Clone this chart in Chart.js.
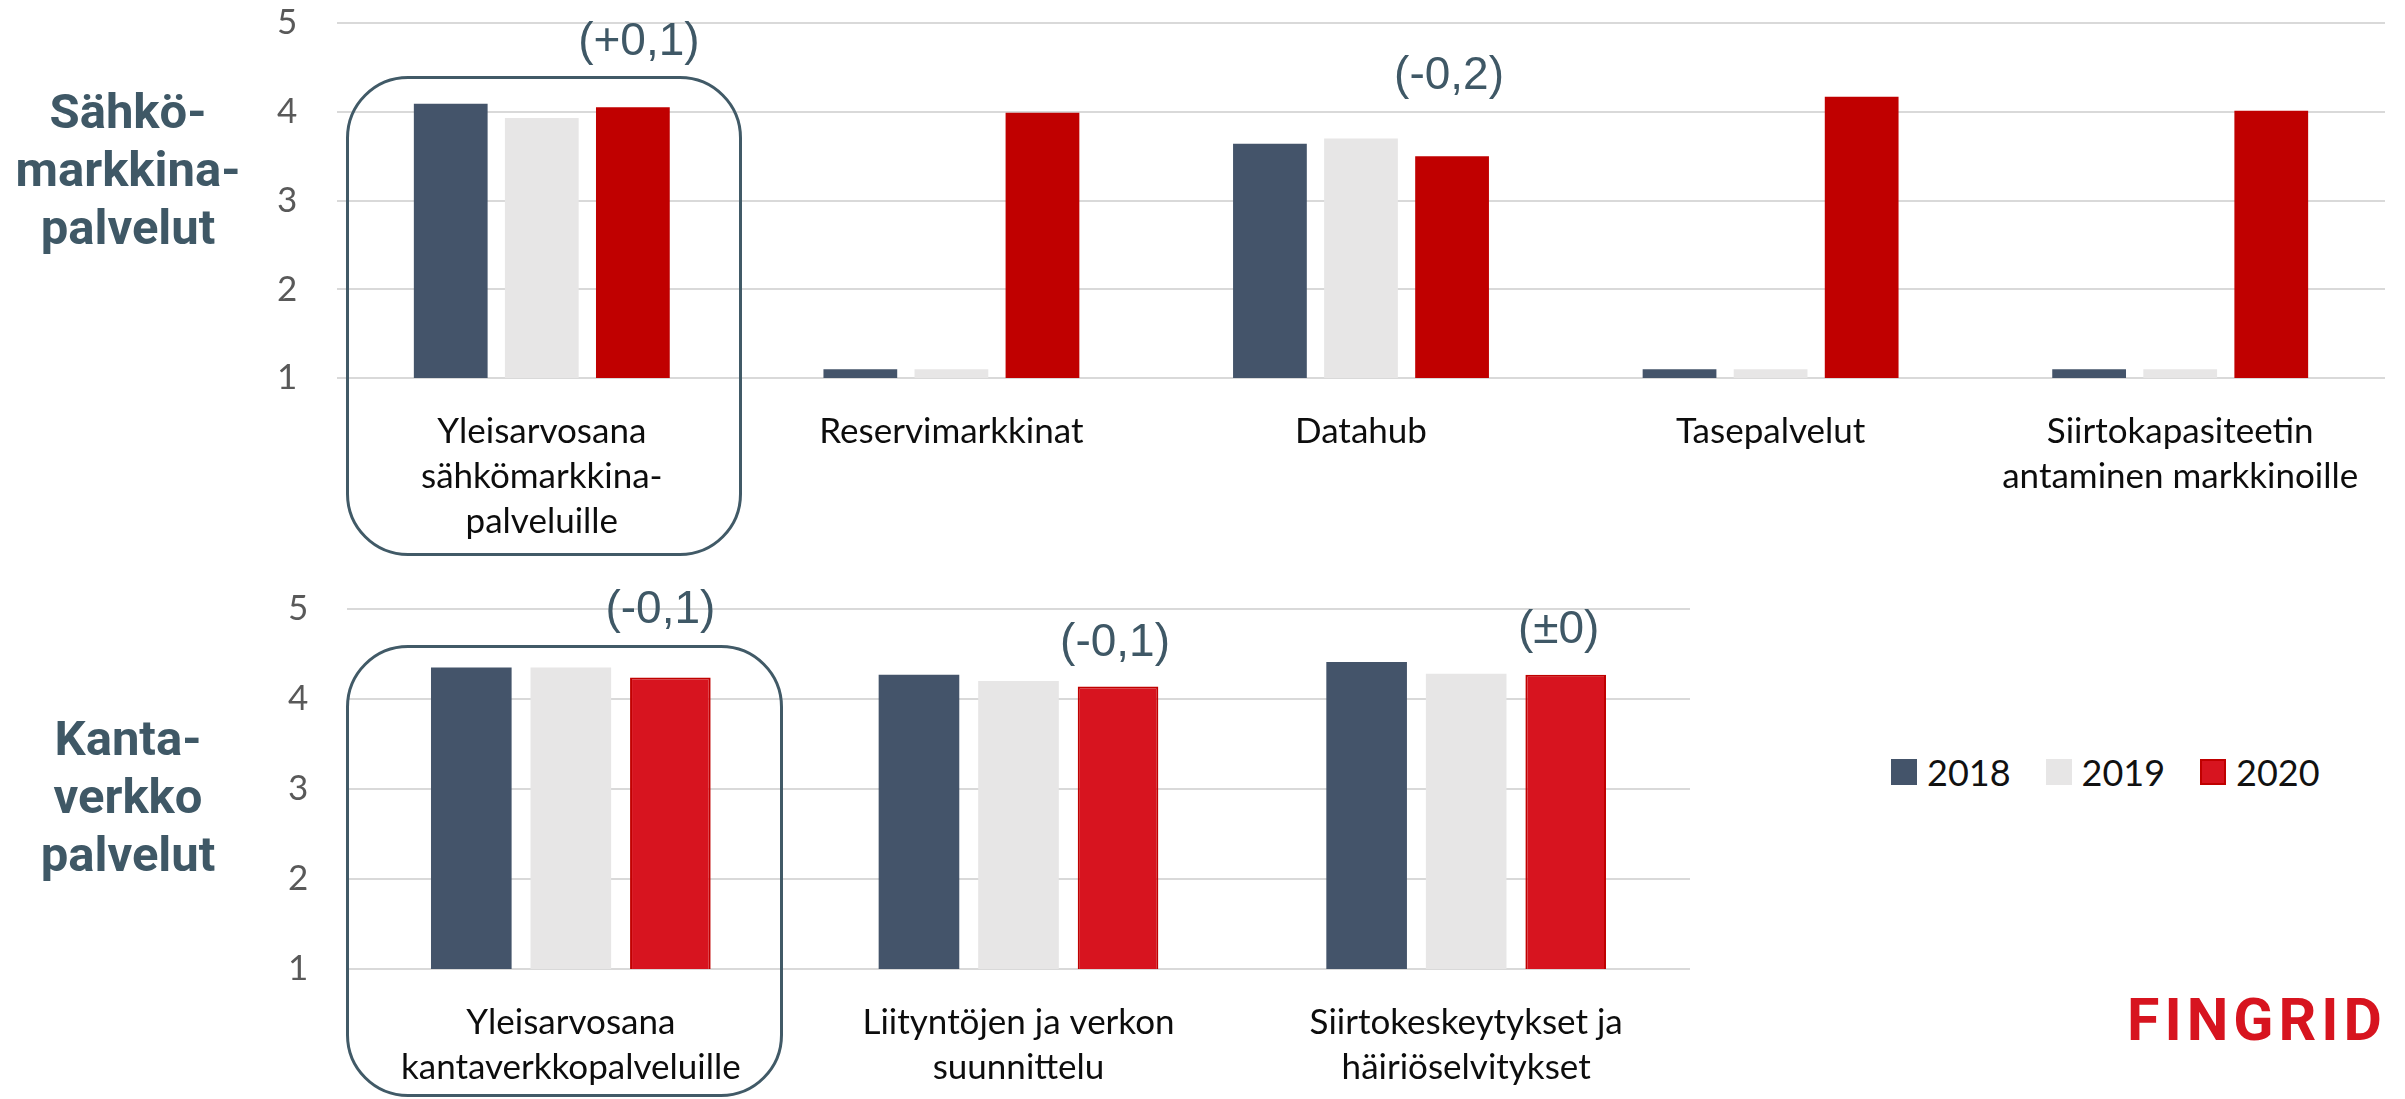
<!DOCTYPE html>
<html>
<head>
<meta charset="utf-8">
<script src="https://cdn.jsdelivr.net/npm/chart.js@4.4.0/dist/chart.umd.min.js"></script>
<style>
  body { margin: 0; background: #fff; width: 2405px; height: 1099px; overflow: hidden; position: relative; font-family: Lato, sans-serif; }
  .wrap { position: absolute; left: 0; }
  #topWrap { top: 0; width: 2405px; height: 560px; }
  #bottomWrap { top: 560px; width: 1720px; height: 539px; }
  .side { position: absolute; left: 0; width: 256px; text-align: center; font-family: Roboto, sans-serif; font-weight: 700; font-size: 49px; line-height: 58px; color: #3f5866; }
  .box { position: absolute; border: 3px solid #415a67; border-radius: 62px; box-sizing: border-box; pointer-events: none; }
  #legend { position: absolute; left: 1891px; top: 750px; height: 44px; display: flex; align-items: center; font-family: Lato, sans-serif; font-size: 36px; color: #111; }
  #legend .sw { width: 26px; height: 26px; box-sizing: border-box; margin-right: 10px; }
  #legend .item { display: flex; align-items: center; margin-right: 35px; }
  #logo { position: absolute; left: 2127px; top: 990px; font-family: Roboto, sans-serif; font-weight: 700; font-size: 59px; line-height: 59px; letter-spacing: 5px; color: #d7141f; }
</style>
</head>
<body>

<div class="side" style="top:83px">Sähkö-<br>markkina-<br>palvelut</div>
<div class="side" style="top:710px">Kanta-<br>verkko<br>palvelut</div>

<div class="wrap" id="topWrap"><canvas id="topChart"></canvas></div>
<div class="wrap" id="bottomWrap"><canvas id="bottomChart"></canvas></div>

<div class="box" style="left:346px; top:76px; width:396px; height:480px"></div>
<div class="box" style="left:346px; top:645px; width:437px; height:452px"></div>

<div id="legend"></div>
<div id="logo">FINGRID</div>

<script>
// --- data ---
const years = ['2018', '2019', '2020'];

const topCategories = [
  ['Yleisarvosana', 'sähkömarkkina-', 'palveluille'],
  'Reservimarkkinat',
  'Datahub',
  'Tasepalvelut',
  ['Siirtokapasiteetin', 'antaminen markkinoille']
];
const top2018 = [4.09, 1.1, 3.64, 1.1, 1.1];
const top2019 = [3.93, 1.1, 3.70, 1.1, 1.1];
const top2020 = [4.05, 3.99, 3.50, 4.17, 4.01];
const topDiffs = ['(+0,1)', '', '(-0,2)', '', ''];

const bottomCategories = [
  ['Yleisarvosana', 'kantaverkkopalveluille'],
  ['Liityntöjen ja verkon', 'suunnittelu'],
  ['Siirtokeskeytykset ja', 'häiriöselvitykset']
];
const bottom2018 = [4.35, 4.27, 4.41];
const bottom2019 = [4.35, 4.20, 4.28];
const bottom2020 = [4.24, 4.14, 4.27];
const bottomDiffs = ['(-0,1)', '(-0,1)', '(±0)'];

const yTicks = [1, 2, 3, 4, 5];

// --- styles ---
const colBlue = '#44546a';
const colGrey = '#e7e6e6';
const colDarkRed = '#c00000';
const colRed = '#d7141f';

// draws the "(+0,1)" style change labels above the 2020 bars
const diffLabels = {
  id: 'diffLabels',
  afterDatasetsDraw(chart, args, opts) {
    const meta = chart.getDatasetMeta(2);
    const ctx = chart.ctx;
    ctx.save();
    ctx.font = '46px "Liberation Sans", Arial, sans-serif';
    ctx.fillStyle = '#3f5866';
    ctx.textAlign = 'center';
    ctx.textBaseline = 'middle';
    opts.labels.forEach(function (txt, i) {
      if (!txt) return;
      const bar = meta.data[i];
      ctx.fillText(txt, bar.x + opts.dx[i], bar.y - opts.lift[i]);
    });
    ctx.restore();
  }
};

function makeChart(id, w, h, cats, d18, d19, d20, red, redBorder, padding, yWidth, xHeight, diffOpts) {
  const canvas = document.getElementById(id);
  canvas.width = w;
  canvas.height = h;
  canvas.style.width = w + 'px';
  canvas.style.height = h + 'px';
  return new Chart(canvas, {
    type: 'bar',
    data: {
      labels: cats,
      datasets: [
        { label: years[0], data: d18, backgroundColor: colBlue, borderWidth: 0 },
        { label: years[1], data: d19, backgroundColor: colGrey, borderWidth: 0 },
        { label: years[2], data: d20, backgroundColor: red, borderColor: redBorder, borderWidth: redBorder ? 2 : 0 }
      ]
    },
    plugins: [diffLabels],
    options: {
      responsive: false,
      animation: false,
      devicePixelRatio: 1,
      categoryPercentage: 0.667,
      barPercentage: 0.81,
      layout: { padding: padding },
      plugins: {
        legend: { display: false },
        tooltip: { enabled: false },
        diffLabels: diffOpts
      },
      scales: {
        x: {
          grid: { display: false },
          border: { display: false },
          ticks: {
            autoSkip: false, maxRotation: 0, padding: 23,
            color: '#0d0d0d',
            font: { family: 'Lato', size: 35, lineHeight: 1.286 }
          },
          afterFit: function (s) { s.height = xHeight; }
        },
        y: {
          min: yTicks[0],
          max: yTicks[yTicks.length - 1],
          afterBuildTicks: function (s) { s.ticks = yTicks.map(function (v) { return { value: v }; }); },
          grid: { color: '#d9d9d9', lineWidth: 2, drawTicks: false },
          border: { display: false },
          ticks: {
            padding: 0,
            crossAlign: 'far',
            color: '#595959',
            font: { family: 'Lato', size: 35 }
          },
          afterFit: function (s) { s.width = yWidth; }
        }
      }
    }
  });
}

makeChart('topChart', 2405, 560, topCategories, top2018, top2019, top2020, colDarkRed, null,
  { top: 23, right: 20, left: 277, bottom: 0 }, 60, 182,
  { labels: topDiffs, lift: [65, 0, 80, 0, 0], dx: [6, 0, -3, 0, 0] });

makeChart('bottomChart', 1720, 539, bottomCategories, bottom2018, bottom2019, bottom2020, colRed, colDarkRed,
  { top: 49, right: 30, left: 288, bottom: 0 }, 59, 130,
  { labels: bottomDiffs, lift: [67, 43, 44], dx: [-10, -3, -7] });

// legend built from the series
const legend = document.getElementById('legend');
const swatches = [
  { bg: colBlue, border: 'none' },
  { bg: colGrey, border: 'none' },
  { bg: colRed, border: '2px solid ' + colDarkRed }
];
years.forEach(function (y, i) {
  const item = document.createElement('div');
  item.className = 'item';
  const sw = document.createElement('div');
  sw.className = 'sw';
  sw.style.background = swatches[i].bg;
  sw.style.border = swatches[i].border;
  const t = document.createElement('span');
  t.textContent = y;
  item.appendChild(sw);
  item.appendChild(t);
  legend.appendChild(item);
});
</script>
</body>
</html>
